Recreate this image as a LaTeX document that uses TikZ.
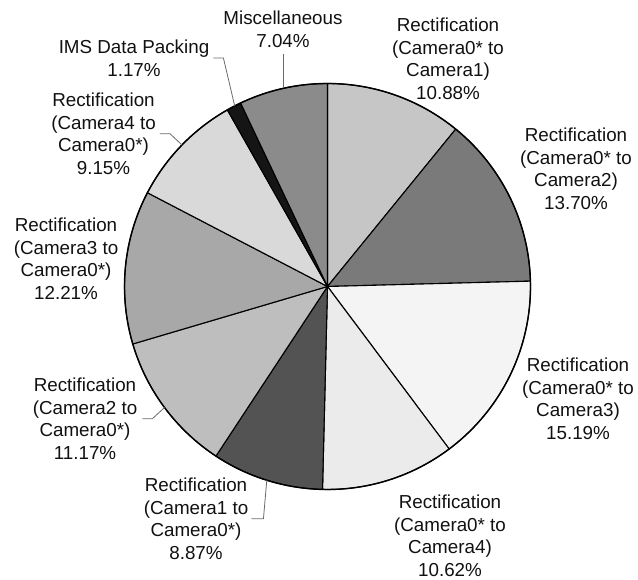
\documentclass[tikz,border=0pt]{standalone}
\usepackage{fontspec}
\setmainfont{Liberation Sans}
\definecolor{txt}{HTML}{111111}
\definecolor{leadc}{HTML}{6A6A6A}
\definecolor{sA}{HTML}{C6C6C6}
\definecolor{sB}{HTML}{7A7A7A}
\definecolor{sC}{HTML}{F4F4F4}
\definecolor{sD}{HTML}{EBEBEB}
\definecolor{sE}{HTML}{535353}
\definecolor{sF}{HTML}{BEBEBE}
\definecolor{sG}{HTML}{A8A8A8}
\definecolor{sH}{HTML}{D9D9D9}
\definecolor{sI}{HTML}{151515}
\definecolor{sJ}{HTML}{8B8B8B}
\newcommand\pieR{203}
\newcommand\wedgeslice[3]{%
  \filldraw[wedge, fill=#3] (O) -- ++(#1:\pieR) arc[start angle=#1, end angle=#2, radius=\pieR] -- cycle;}
\begin{document}
\begin{tikzpicture}[x=1pt, y=1pt,
  lab/.style={align=center, anchor=north, inner sep=0pt, text=txt,
              font=\fontsize{18.8}{22.6}\selectfont},
  leader/.style={draw=leadc, line width=0.8pt, line join=round},
  wedge/.style={draw=black, line width=1.1pt, line join=round}]
\useasboundingbox (0,0) rectangle (638,580);
\coordinate (O) at (327.5,293.5);

% pie slices, clockwise from the top
\wedgeslice{90}{50.832}{sA}
\wedgeslice{50.832}{1.512}{sB}
\wedgeslice{1.512}{-53.172}{sC}
\wedgeslice{-53.172}{-91.404}{sD}
\wedgeslice{-91.404}{-123.336}{sE}
\wedgeslice{-123.336}{-163.548}{sF}
\wedgeslice{-163.548}{-207.504}{sG}
\wedgeslice{-207.504}{-240.444}{sH}
\wedgeslice{-240.444}{-244.656}{sI}
\wedgeslice{-244.656}{-270}{sJ}
\draw[black, line width=1.4pt] (O) circle[radius=\pieR];

% leader end points on the rim
\path (O) ++(102.66:\pieR) coordinate (pmisc);
\path (O) ++(117.2:\pieR) coordinate (pims);
\path (O) ++(135.8:\pieR) coordinate (pc40);
\path (O) ++(-143.4:\pieR) coordinate (pc20);
\path (O) ++(-107.4:\pieR) coordinate (pc10);

% labels
\node[lab] (misc) at (283,569.3) {Miscellaneous\\7.04\%};
\node[lab] (ims)  at (134,540.3) {IMS Data Packing\\1.17\%};
\node[lab] (c01)  at (448,562.3) {Rectification\\(Camera0* to\\Camera1)\\10.88\%};
\node[lab] (c02)  at (576,452.3) {Rectification\\(Camera0* to\\Camera2)\\13.70\%};
\node[lab] (c03)  at (578,222.3) {Rectification\\(Camera0* to\\Camera3)\\15.19\%};
\node[lab] (c04)  at (450,85.3)  {Rectification\\(Camera0* to\\Camera4)\\10.62\%};
\node[lab] (c10)  at (196,102.3) {Rectification\\(Camera1 to\\Camera0*)\\8.87\%};
\node[lab] (c20)  at (85,202.3)  {Rectification\\(Camera2 to\\Camera0*)\\11.17\%};
\node[lab] (c30)  at (66,362.3)  {Rectification\\(Camera3 to\\Camera0*)\\12.21\%};
\node[lab] (c40)  at (103.5,487.3) {Rectification\\(Camera4 to\\Camera0*)\\9.15\%};

% leader lines
\draw[leader] ([yshift=-7pt]misc.south) -- (misc.south |- pmisc);
\draw[leader] ([xshift=4pt]ims.east) -- ++(10,0) -- (pims);
\draw[leader] ([xshift=4pt]c40.east) -- ++(10,0) -- (pc40);
\draw[leader] ([xshift=5pt]c20.east) -- ++(10,0) -- (pc20);
\draw[leader] ([xshift=3pt]c10.east) -- ++(12,0) -- (pc10);
\end{tikzpicture}
\end{document}
